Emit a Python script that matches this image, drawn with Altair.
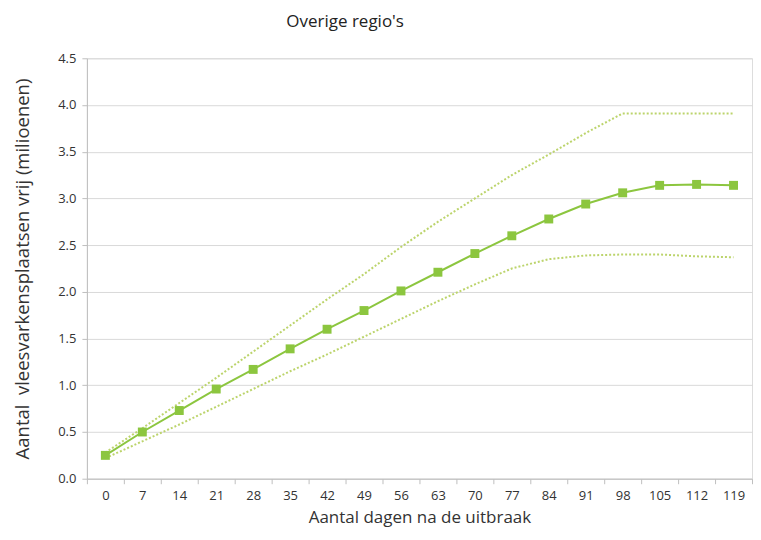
import altair as alt
import pandas as pd

dagen = [0, 7, 14, 21, 28, 35, 42, 49, 56, 63, 70, 77, 84, 91, 98, 105, 112, 119]
gemiddeld = [0.25, 0.50, 0.73, 0.96, 1.17, 1.39, 1.60, 1.80, 2.01, 2.21, 2.41, 2.60, 2.78, 2.94, 3.06, 3.14, 3.15, 3.14]
boven = [0.28, 0.54, 0.81, 1.08, 1.36, 1.64, 1.92, 2.19, 2.48, 2.75, 3.00, 3.25, 3.47, 3.70, 3.91, 3.91, 3.91, 3.91]
onder = [0.22, 0.40, 0.58, 0.77, 0.96, 1.15, 1.33, 1.52, 1.71, 1.90, 2.08, 2.25, 2.35, 2.39, 2.40, 2.40, 2.38, 2.37]
y_ticks = [0.0, 0.5, 1.0, 1.5, 2.0, 2.5, 3.0, 3.5, 4.0, 4.5]

df = pd.DataFrame({"dag": dagen, "gem": gemiddeld, "boven": boven, "onder": onder})

FONT = "Open Sans"
MAIN = "#8cc63f"
DOT = "#bcd46c"

x = alt.X("dag:O", sort=dagen, title="Aantal dagen na de uitbraak",
          axis=alt.Axis(labelAngle=0, tickBand="extent", labelFontSize=13, titleFontSize=17,
                        labelColor="#333333", titleColor="#333333", labelPadding=6,
                        titlePadding=7, tickSize=5, domainColor="#bfbfbf", tickColor="#bfbfbf",
                        grid=False, labelFont=FONT, titleFont=FONT, titleFontWeight="normal"))
y_axis = alt.Axis(values=y_ticks, format=".1f", labelFontSize=13, titleFontSize=18.5,
                  labelColor="#333333", titleColor="#333333", labelPadding=6, titlePadding=25,
                  tickSize=5, domainColor="#bfbfbf", tickColor="#bfbfbf", gridColor="#d9d9d9",
                  labelFont=FONT, titleFont=FONT, titleFontWeight="normal")

base = alt.Chart(df)

upper = base.mark_line(color=DOT, strokeWidth=2, strokeDash=[2, 2]).encode(
    x=x, y=alt.Y("boven:Q", scale=alt.Scale(domain=[0, 4.5]),
                 title="Aantal\u00a0 vleesvarkensplaatsen vrij (milioenen)", axis=y_axis))
lower = base.mark_line(color=DOT, strokeWidth=2, strokeDash=[2, 2]).encode(
    x=x, y=alt.Y("onder:Q"))
main = base.mark_line(color=MAIN, strokeWidth=2,
                      point=alt.OverlayMarkDef(shape="square", size=80, filled=True, color=MAIN, opacity=1)).encode(
    x=x, y=alt.Y("gem:Q"))

chart = alt.layer(upper, lower, main).properties(
    width=666, height=421,
    padding={"left": 5, "top": 5, "right": 0, "bottom": 5},
    title=alt.TitleParams("Overige regio's", anchor="start", dx=273, fontSize=17,
                          font=FONT, fontWeight="normal", color="#222222", offset=21),
).configure_view(stroke=None).configure(background="white")

chart.save("out.html", embed_options={"renderer": "svg", "actions": False})
